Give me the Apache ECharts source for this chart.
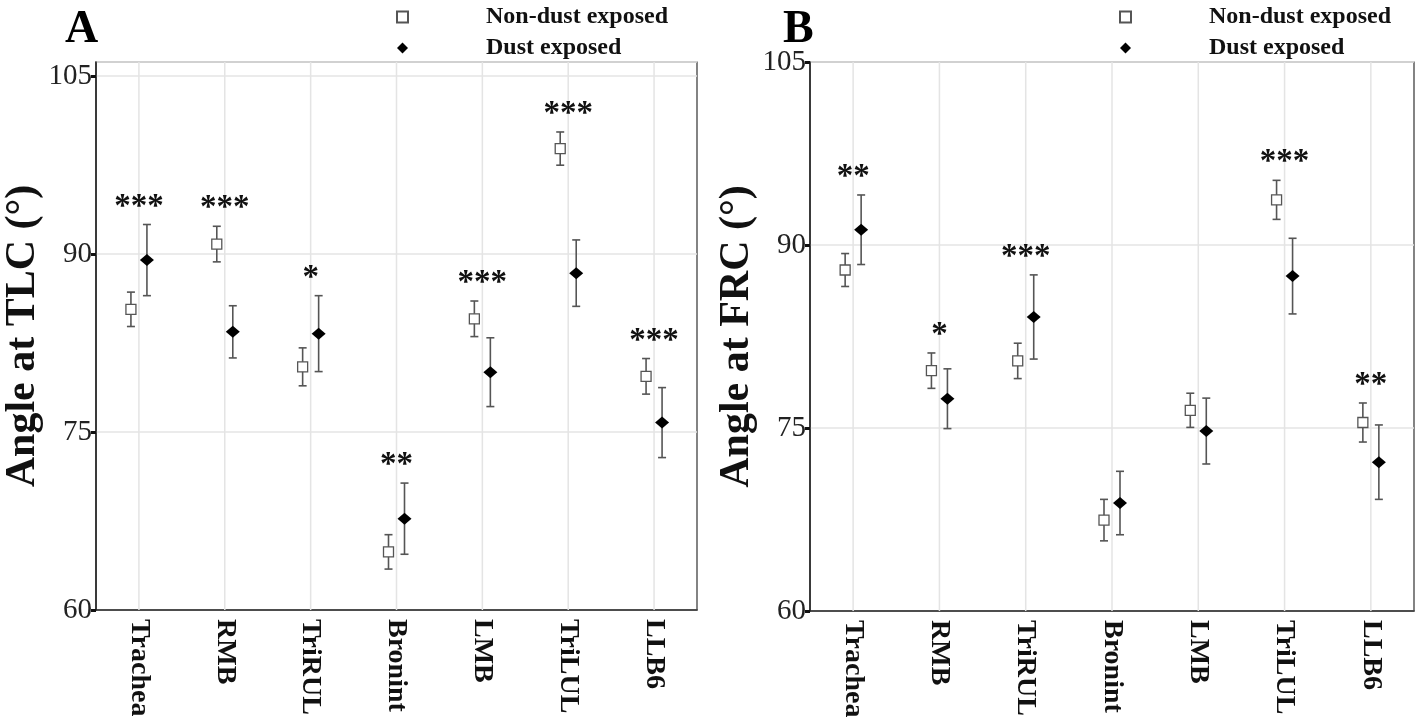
<!DOCTYPE html>
<html><head><meta charset="utf-8">
<script src="https://cdn.jsdelivr.net/npm/echarts@6/dist/echarts.min.js"></script>
<style>html,body{margin:0;padding:0;background:#fff}#c{width:1418px;height:725px}</style>
</head><body><div id="c"></div>
<script>
const categories = ['Trachea','RMB','TriRUL','Bronint','LMB','TriLUL','LLB6'];
const tlcNonDust = [85.35, 90.85, 80.5, 64.9, 84.55, 98.9, 79.7];
const tlcNonDustErr = [1.45, 1.5, 1.6, 1.45, 1.5, 1.4, 1.5];
const tlcDust = [89.5, 83.45, 83.3, 67.7, 80.05, 88.4, 75.8];
const tlcDustErr = [3.0, 2.2, 3.2, 3.0, 2.9, 2.8, 2.95];
const tlcSig = ['***','***','*','**','***','***','***'];
const frcNonDust = [87.95, 79.7, 80.5, 67.45, 76.45, 93.7, 75.45];
const frcNonDustErr = [1.35, 1.45, 1.45, 1.7, 1.4, 1.6, 1.6];
const frcDust = [91.25, 77.4, 84.1, 68.85, 74.75, 87.45, 72.2];
const frcDustErr = [2.85, 2.45, 3.45, 2.6, 2.7, 3.1, 3.05];
const frcSig = ['**','*','***','','','***','**'];
const yMin = 60, yStep = 15;
const seriesNames = ['Non-dust exposed','Dust exposed'];
const panelLetters = ['A','B'];
const yTitles = ['Angle at TLC (°)','Angle at FRC (°)'];

const SERIF = 'Liberation Serif';
const OFF = 8;
const errColor = '#555';

const chart = echarts.init(document.getElementById('c'));

function gridLines(idx){
  return {type:'custom', xAxisIndex:idx, yAxisIndex:idx, silent:true, z:1,
    data: categories.map((c,i)=>[i, yMin]),
    renderItem:(p,api)=>{
      const pt = api.coord([api.value(0), api.value(1)]);
      const cs = p.coordSys;
      return {type:'line', shape:{x1:pt[0],y1:cs.y,x2:pt[0],y2:cs.y+cs.height},
        style:{stroke:'#e4e4e4',lineWidth:1.5}};
    }};
}
function errSeries(idx, vals, errs, off){
  return {type:'custom', xAxisIndex:idx, yAxisIndex:idx, silent:true, z:3,
    data: vals.map((v,i)=>[i, v-errs[i], v+errs[i]]),
    encode:{x:0, y:[1,2]},
    renderItem:(p,api)=>{
      const lo = api.coord([api.value(0), api.value(1)]);
      const hi = api.coord([api.value(0), api.value(2)]);
      const x = lo[0]+off, cw = 4;
      const st = {stroke:errColor, lineWidth:1.6};
      return {type:'group', children:[
        {type:'line', shape:{x1:x,y1:lo[1],x2:x,y2:hi[1]}, style:st},
        {type:'line', shape:{x1:x-cw,y1:lo[1],x2:x+cw,y2:lo[1]}, style:st},
        {type:'line', shape:{x1:x-cw,y1:hi[1],x2:x+cw,y2:hi[1]}, style:st}
      ]};
    }};
}
function sigSeries(idx, a, ae, b, be, sig){
  return {type:'custom', xAxisIndex:idx, yAxisIndex:idx, silent:true, z:5,
    data: sig.map((s,i)=>[i, Math.max(a[i]+ae[i], b[i]+be[i])]),
    renderItem:(p,api)=>{
      const s = sig[p.dataIndex];
      if(!s) return null;
      const pt = api.coord([api.value(0), api.value(1)]);
      return {type:'text', x:pt[0], y:pt[1]-1,
        style:{text:s, fontSize:33, fontFamily:SERIF, fontWeight:'bold', fill:'#111',
          align:'center', verticalAlign:'bottom'}};
    }};
}
function scatterPair(idx, nd, d){
  return [
    {name:seriesNames[0], type:'scatter', xAxisIndex:idx, yAxisIndex:idx, z:4,
     symbol:'rect', symbolSize:10, symbolOffset:[-OFF,0],
     itemStyle:{color:'#fff', borderColor:'#555', borderWidth:1.3, opacity:1},
     data: nd.map((v,i)=>[i,v])},
    {name:seriesNames[1], type:'scatter', xAxisIndex:idx, yAxisIndex:idx, z:4,
     symbol:'diamond', symbolSize:[14,12], symbolOffset:[OFF,0],
     itemStyle:{color:'#000', opacity:1},
     data: d.map((v,i)=>[i,v])}
  ];
}
function xAxisCfg(idx){
  return {type:'category', gridIndex:idx, data:categories, boundaryGap:true,
    axisLine:{lineStyle:{color:'#222', width:1.5}},
    axisTick:{alignWithLabel:true, length:6, lineStyle:{color:'#111', width:2.5}},
    axisLabel:{rotate:-90, margin:9, fontFamily:SERIF, fontWeight:'bold', fontSize:28, color:'#111'},
    splitLine:{show:false}};
}
function yAxisCfg(idx, max){
  return {type:'value', gridIndex:idx, min:yMin, max:max, interval:yStep,
    name:yTitles[idx], nameLocation:'middle', nameRotate:90, nameGap:46,
    nameTextStyle:{fontFamily:SERIF, fontWeight:'bold', fontSize:42, color:'#111'},
    axisLine:{show:true, lineStyle:{color:'#222', width:1.5}},
    axisTick:{show:true, length:5, lineStyle:{color:'#111', width:3}},
    axisLabel:{margin:4, fontFamily:SERIF, fontSize:29, color:'#222'},
    splitLine:{show:true, lineStyle:{color:'#e4e4e4', width:1.5}}};
}
function legendCfg(left){
  return {data:seriesNames, orient:'vertical', left:left, top:0, itemWidth:11, itemHeight:11,
    itemGap:7, selectedMode:false,
    textStyle:{fontFamily:SERIF, fontWeight:'bold', fontSize:24, color:'#111', padding:[0,0,0,73]}};
}

const option = {
  animation:false,
  backgroundColor:'#fff',
  title:[
    {text:panelLetters[0], left:60, top:2, textStyle:{fontFamily:SERIF, fontWeight:'bold', fontSize:46, color:'#000'}},
    {text:panelLetters[1], left:778, top:2, textStyle:{fontFamily:SERIF, fontWeight:'bold', fontSize:46, color:'#000'}}
  ],
  legend:[legendCfg(391), legendCfg(1114)],
  grid:[
    {left:96, top:62, width:601, height:548, show:true, borderColor:'#333', borderWidth:1.2},
    {left:810, top:62, width:604, height:549, show:true, borderColor:'#333', borderWidth:1.2}
  ],
  xAxis:[xAxisCfg(0), xAxisCfg(1)],
  yAxis:[yAxisCfg(0, 106.2), yAxisCfg(1, 105)],
  series:[
    gridLines(0), gridLines(1),
    errSeries(0, tlcNonDust, tlcNonDustErr, -OFF),
    errSeries(0, tlcDust, tlcDustErr, OFF),
    errSeries(1, frcNonDust, frcNonDustErr, -OFF),
    errSeries(1, frcDust, frcDustErr, OFF),
    ...scatterPair(0, tlcNonDust, tlcDust),
    ...scatterPair(1, frcNonDust, frcDust),
    sigSeries(0, tlcNonDust, tlcNonDustErr, tlcDust, tlcDustErr, tlcSig),
    sigSeries(1, frcNonDust, frcNonDustErr, frcDust, frcDustErr, frcSig)
  ]
};
chart.setOption(option);
</script></body></html>
